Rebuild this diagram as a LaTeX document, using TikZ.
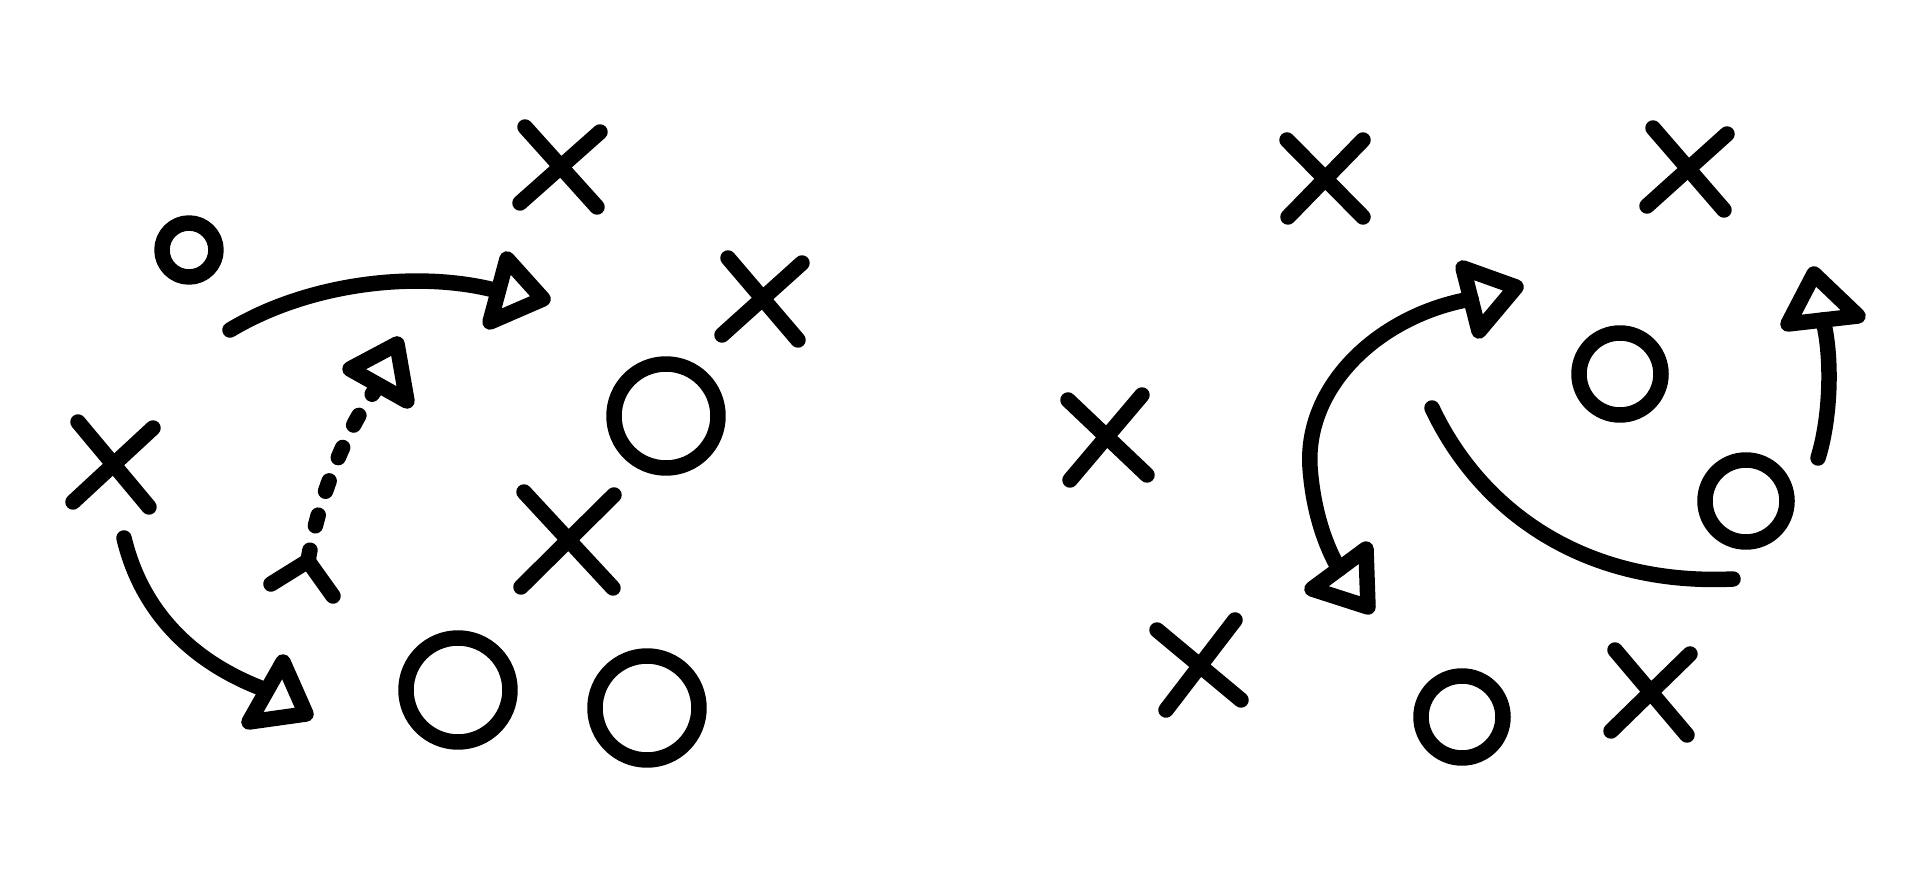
\documentclass[tikz,border=0pt]{standalone}
\usepackage{tikz}
\usetikzlibrary{calc}

\begin{document}
\begin{tikzpicture}[x=0.1mm, y=-0.1mm]
  \tikzstyle{chalk}=[line width=1.55mm, line cap=round, line join=round]
  \tikzstyle{route}=[chalk]
  \tikzstyle{pass}=[chalk, dash pattern=on 1.1mm off 2.5mm]
  \tikzstyle{tip}=[chalk]
  \useasboundingbox (0,0) rectangle (1920,883);

  % ---- left play ----
  % players O
  \draw[chalk] (189,250) circle (27);
  \draw[chalk] (666,416) circle (52);
  \draw[chalk] (458,690) circle (52);
  \draw[chalk] (647,708) circle (52);
  % players X
  \draw[chalk] (525,127) -- (597,207) (600,132) -- (520,203);
  \draw[chalk] (728,258) -- (798,340) (802,263) -- (722,335);
  \draw[chalk] (78,422) -- (149,507) (153,428) -- (73,502);
  \draw[chalk] (524,492) -- (613,588) (614,495) -- (521,587);

  % route over the top
  \coordinate (r1s) at (230,330);
  \coordinate (r1e) at (498,291);
  \draw[route] (r1s) .. controls (310,282) and (420,270) .. (r1e);
  \draw[tip] (507,259) -- (543,299) -- (490,322) -- cycle;

  % dashed pass from the fork
  \coordinate (fork) at (308,561);
  \coordinate (r2e) at (378,386);
  \draw[chalk] (271,584) -- (fork) -- (333,596);
  \draw[pass] (fork) .. controls (318,500) and (345,430) .. (r2e);
  \draw[tip] (397,344) -- (350,369) -- (407,401) -- cycle;

  % route down the side
  \coordinate (r3s) at (124,538);
  \coordinate (r3e) at (266,690);
  \draw[route] (r3s) .. controls (140,605) and (185,660) .. (r3e);
  \draw[tip] (283,662) -- (306,714) -- (249,722) -- cycle;

  % ---- right play ----
  % players O
  \draw[chalk] (1620,374) circle (41);
  \draw[chalk] (1746,501) circle (41);
  \draw[chalk] (1462,717) circle (41);
  % players X
  \draw[chalk] (1287,140) -- (1363,217) (1363,140) -- (1288,217);
  \draw[chalk] (1653,128) -- (1724,210) (1727,134) -- (1647,206);
  \draw[chalk] (1068,400) -- (1147,475) (1142,395) -- (1070,480);
  \draw[chalk] (1157,630) -- (1241,700) (1235,620) -- (1166,710);
  \draw[chalk] (1615,650) -- (1687,735) (1690,654) -- (1611,731);

  % two-way loop
  \coordinate (r4a) at (1471,299);
  \coordinate (r4b) at (1339,569);
  \draw[route] (r4a) .. controls (1380,315) and (1305,385) .. (1310,467)
                     .. controls (1313,510) and (1325,545) .. (r4b);
  \draw[tip] (1463,268) -- (1516,287) -- (1479,331) -- cycle;
  \draw[tip] (1366,549) -- (1368,607) -- (1312,589) -- cycle;

  % sweep under the circles
  \coordinate (r5s) at (1432,408);
  \coordinate (r5e) at (1733,579);
  \draw[route] (r5s) .. controls (1480,510) and (1583,586) .. (r5e);

  % short route up the right
  \coordinate (r6s) at (1818,458);
  \coordinate (r6e) at (1823,320);
  \draw[route] (r6s) .. controls (1830,420) and (1833,360) .. (r6e);
  \draw[tip] (1814,274) -- (1858,316) -- (1788,324) -- cycle;
\end{tikzpicture}
\end{document}
